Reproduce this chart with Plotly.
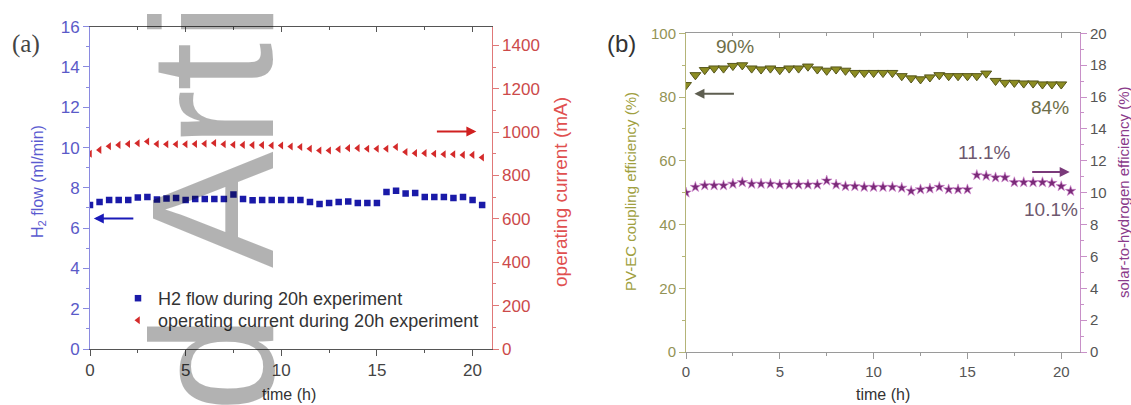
import plotly.graph_objects as go

# ---------------- data ----------------
hours = [0, 0.5, 1, 1.5, 2, 2.5, 3, 3.5, 4, 4.5, 5, 5.5, 6, 6.5, 7, 7.5, 8, 8.5, 9, 9.5,
         10, 10.5, 11, 11.5, 12, 12.5, 13, 13.5, 14, 14.5, 15, 15.5, 16, 16.5, 17, 17.5,
         18, 18.5, 19, 19.5, 20, 20.5]
h2_flow = [7.15, 7.3, 7.4, 7.4, 7.4, 7.52, 7.55, 7.42, 7.47, 7.5, 7.4, 7.45, 7.45, 7.45,
           7.45, 7.67, 7.45, 7.38, 7.4, 7.4, 7.4, 7.4, 7.4, 7.3, 7.2, 7.25, 7.3, 7.32,
           7.25, 7.25, 7.25, 7.8, 7.85, 7.72, 7.75, 7.55, 7.55, 7.55, 7.5, 7.55, 7.4, 7.15]
current_ma = [900, 918, 935, 941, 945, 949, 957, 945, 944, 944, 944, 945, 946, 950, 944,
              942, 941, 940, 940, 938, 938, 934, 931, 923, 915, 915, 921, 926, 926, 923,
              923, 923, 931, 908, 903, 903, 900, 898, 898, 895, 895, 883]

hours_b = [0, 0.5, 1, 1.5, 2, 2.5, 3, 3.5, 4, 4.5, 5, 5.5, 6, 6.5, 7, 7.5, 8, 8.5, 9, 9.5,
           10, 10.5, 11, 11.5, 12, 12.5, 13, 13.5, 14, 14.5, 15, 15.5, 16, 16.5, 17, 17.5,
           18, 18.5, 19, 19.5, 20]
coupling_eff = [83.8, 86.9, 88.5, 89.0, 89.0, 89.8, 90.0, 89.0, 88.7, 89.0, 88.5, 89.0,
                89.0, 89.6, 88.7, 88.3, 88.7, 88.3, 87.6, 87.6, 87.6, 87.6, 87.6, 86.6,
                85.9, 85.6, 86.2, 86.9, 86.6, 86.6, 86.6, 86.6, 87.4, 85.1, 84.5, 84.5,
                84.3, 84.3, 84.0, 84.0, 84.0]
sth_eff = [10.0, 10.35, 10.45, 10.45, 10.45, 10.55, 10.65, 10.55, 10.55, 10.55, 10.5, 10.5,
           10.5, 10.5, 10.5, 10.75, 10.5, 10.4, 10.4, 10.35, 10.35, 10.35, 10.35, 10.3,
           10.1, 10.2, 10.25, 10.35, 10.2, 10.2, 10.2, 11.1, 11.05, 10.95, 10.95, 10.65,
           10.65, 10.65, 10.65, 10.6, 10.4, 10.1]

time_ticks = [0, 5, 10, 15, 20]

# ---------------- layout helpers ----------------
W, H = 1131, 405
FONT = "Liberation Sans, Arial, sans-serif"


def px(xp):
    return xp / W


def py(yp):
    return 1 - yp / H


dom_a_x = [px(90), px(491.7)]
dom_a_y = [py(349), py(26.7)]
dom_b_x = [px(686), px(1080)]
dom_b_y = [py(352), py(33.3)]


def axis_style(color_line, color_font, size, **kw):
    d = dict(showline=True, linecolor=color_line, linewidth=1, ticks="outside",
             ticklen=6, tickwidth=1, tickcolor=color_line, showgrid=False,
             zeroline=False, automargin=False,
             tickfont=dict(family=FONT, size=size, color=color_font))
    d.update(kw)
    return d


def legend_box(top):
    return dict(x=px(118), y=py(top), xanchor="left", yanchor="top",
                bgcolor="rgba(0,0,0,0)", borderwidth=0,
                font=dict(family=FONT, size=18, color="#333333"))


fig = go.Figure()

# ---- panel (a) ----
fig.add_trace(go.Scatter(
    x=hours, y=h2_flow, mode="markers", name="H2 flow during 20h experiment",
    marker=dict(symbol="square", size=6.5, color="#1a1aa8"),
    xaxis="x", yaxis="y", legend="legend"))
fig.add_trace(go.Scatter(
    x=hours, y=current_ma, mode="markers", name="operating current during 20h experiment",
    marker=dict(symbol="triangle-left", size=7, color="#d42a2a"),
    xaxis="x", yaxis="y2", legend="legend2"))
fig.add_trace(go.Scatter(x=[], y=[], xaxis="x3", yaxis="y", showlegend=False,
                         hoverinfo="skip"))

# ---- panel (b) ----
fig.add_trace(go.Scatter(
    x=hours_b, y=coupling_eff, mode="markers", showlegend=False,
    marker=dict(symbol="triangle-down", size=9.5, color="#8c8c22",
                line=dict(color="#55551a", width=1)),
    xaxis="x2", yaxis="y3"))
fig.add_trace(go.Scatter(
    x=hours, y=sth_eff, mode="markers", showlegend=False,
    marker=dict(symbol="star", size=8, color="#7a2a78",
                line=dict(color="#d28ad0", width=0.6)),
    xaxis="x2", yaxis="y4"))
fig.add_trace(go.Scatter(x=[], y=[], xaxis="x4", yaxis="y3", showlegend=False,
                         hoverinfo="skip"))

fig.update_layout(
    width=W, height=H,
    template="none",
    paper_bgcolor="white", plot_bgcolor="rgba(0,0,0,0)",
    margin=dict(l=0, r=0, t=0, b=0, pad=0),
    showlegend=True,
    legend=legend_box(280),
    legend2=legend_box(302),
    # panel (a)
    xaxis=axis_style("#555555", "#444444", 17, domain=dom_a_x, anchor="y",
                     range=[0, 21], tickvals=time_ticks,
                     minor=dict(ticks="outside", ticklen=3, dtick=2.5, tick0=0,
                                tickcolor="#555555")),
    xaxis3=axis_style("#555555", "#444444", 17, overlaying="x", side="top",
                      anchor="y", range=[0, 21], tickvals=time_ticks, ticks="inside",
                      ticklen=5, showticklabels=False,
                      minor=dict(ticks="inside", ticklen=3, dtick=2.5, tick0=0,
                                 tickcolor="#555555")),
    yaxis=axis_style("#8a8ae0", "#5a5ac8", 17, domain=dom_a_y, anchor="x",
                     range=[0, 16], dtick=2, tick0=0,
                     minor=dict(ticks="outside", ticklen=3, dtick=1, tick0=0,
                                tickcolor="#8a8ae0")),
    yaxis2=axis_style("#e07878", "#cc4a4a", 17, overlaying="y", side="right",
                      anchor="x", range=[0, 1486], dtick=200, tick0=0,
                      minor=dict(ticks="outside", ticklen=3, dtick=100, tick0=0,
                                 tickcolor="#e07878")),
    # panel (b)
    xaxis2=axis_style("#9a9a9a", "#555555", 15, domain=dom_b_x, anchor="y3",
                      range=[0, 21], tickvals=time_ticks,
                      minor=dict(ticks="outside", ticklen=3, dtick=2.5, tick0=0,
                                 tickcolor="#9a9a9a")),
    xaxis4=axis_style("#9a9a9a", "#555555", 15, overlaying="x2", side="top",
                      anchor="y3", range=[0, 21], tickvals=time_ticks, ticks="inside",
                      ticklen=5, showticklabels=False,
                      minor=dict(ticks="inside", ticklen=3, dtick=2.5, tick0=0,
                                 tickcolor="#9a9a9a")),
    yaxis3=axis_style("#b4b478", "#939355", 15, domain=dom_b_y, anchor="x2",
                      range=[0, 100], dtick=20, tick0=0,
                      minor=dict(ticks="outside", ticklen=3, dtick=10, tick0=0,
                                 tickcolor="#b4b478")),
    yaxis4=axis_style("#c890c8", "#555555", 15, overlaying="y3", side="right",
                      anchor="x2", range=[0, 20], dtick=2, tick0=0,
                      minor=dict(ticks="outside", ticklen=3, dtick=1, tick0=0,
                                 tickcolor="#c890c8")),
)


def label(text, xp, yp, size, color, angle=0, family=FONT):
    fig.add_annotation(text=text, x=px(xp), y=py(yp), xref="paper", yref="paper",
                       xanchor="center", yanchor="middle", showarrow=False,
                       textangle=angle, font=dict(family=family, size=size, color=color))


def arrow(xref, yref, x, y, dx, color):
    fig.add_annotation(x=x, y=y, xref=xref, yref=yref, ax=dx, ay=0, text="",
                       showarrow=True, arrowhead=2, arrowsize=1, arrowwidth=2,
                       arrowcolor=color)


# panel labels
label("(a)", 26, 44, 25, "#444444", family="Liberation Serif, Times New Roman, serif")
label("(b)", 621, 43, 24, "#333333")

# axis titles
label("H<sub>2</sub> flow (ml/min)", 38, 182, 16, "#5a5ad0", angle=-90)
label("operating current (mA)", 560, 192, 19, "#e05050", angle=-90)
label("time (h)", 289, 394, 16, "#333333")
label("PV-EC coupling efficiency (%)", 630, 192, 15, "#a0a040", angle=-90)
label("solar-to-hydrogen efficiency (%)", 1123, 193, 15, "#8a3a8a", angle=-90)
label("time (h)", 883, 394, 16, "#333333")

# value callouts in panel (b)
label("90%", 735, 47, 19, "#6e6e48")
label("84%", 1050, 108, 19, "#6e6e48")
label("11.1%", 984, 152, 19, "#6e586e")
label("10.1%", 1051, 209, 19, "#6e586e")

# direction arrows pointing at each series' axis
arrow("x", "y", 0.2, 6.48, 41, "#1a1ab8")
arrow("x", "y2", 20.2, 1003, -41, "#d02020")
arrow("x2", "y3", 0.45, 81, 41, "#5e5e50")
arrow("x2", "y4", 20.45, 11.3, -39, "#7a3a7a")

# vertical "Accepted Article" watermark: the letters that fall inside the page
WM_X = 212
for ch, yc in [("d", 364), ("A", 210), ("r", 119), ("t", 67), ("i", 22)]:
    fig.add_annotation(text=ch, x=px(WM_X), y=py(yc), xref="paper", yref="paper",
                       xanchor="center", yanchor="middle", showarrow=False,
                       textangle=-90,
                       font=dict(family=FONT, size=175, color="rgba(0,0,0,0.3)"))

fig.write_html("out.html")
